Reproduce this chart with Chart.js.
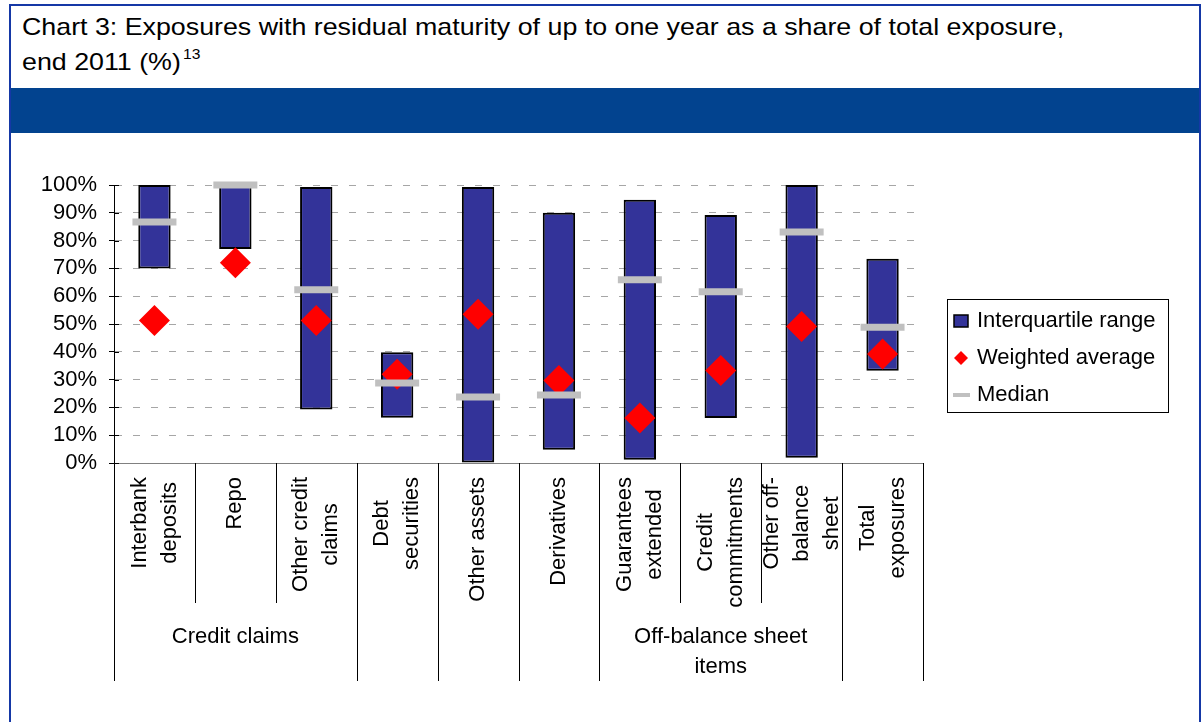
<!DOCTYPE html>
<html lang="en">

<head>
  <meta charset="UTF-8">
  <title>Chart 3</title>
  <style>
    body {
      margin: 0;
      background-color: #ffffff;
      overflow: hidden;
    }

    * {
      font-family: 'Liberation Sans', Arial, sans-serif;
    }

    #frame {
      position: absolute;
      left: 9px;
      top: 4px;
      width: 1188px;
      height: 760px;
      border: 2px solid #1538a6;
      border-bottom: none;
    }

    #title {
      position: absolute;
      left: 22px;
      top: 9px;
      font-size: 24px;
      line-height: 35px;
      color: #000000;
      white-space: nowrap;
      transform: scaleX(1.116);
      transform-origin: left top;
    }

    #title sup {
      font-size: 14px;
      vertical-align: baseline;
      position: relative;
      top: -11px;
      margin-left: 2px;
    }

    #band {
      position: absolute;
      left: 11px;
      top: 88px;
      width: 1188px;
      height: 45px;
      background-color: #02438f;
    }

    #chart-box {
      position: absolute;
      left: 0;
      top: 134px;
      width: 1202px;
      height: 588px;
    }
  </style>
</head>

<body>
  <div id="frame"></div>
  <div id="title">Chart 3: Exposures with residual maturity of up to one year as a share of total exposure,<br>end 2011 (%)<sup>13</sup></div>
  <div id="band"></div>
  <div id="chart-box">
    <canvas id="myChart" width="1202" height="588"></canvas>
  </div>

  <script src="https://cdn.jsdelivr.net/npm/chart.js@4.4.1/dist/chart.umd.min.js"></script>
  <script>
    // category labels, one entry per line of the rotated label
    const categories = [
      ['Interbank', 'deposits'],
      ['Repo'],
      ['Other credit', 'claims'],
      ['Debt', 'securities'],
      ['Other assets'],
      ['Derivatives'],
      ['Guarantees', 'extended'],
      ['Credit', 'commitments'],
      ['Other off-', 'balance', 'sheet'],
      ['Total', 'exposures']
    ]
    // groups span category indexes (inclusive)
    const groups = [
      { lines: ['Credit claims'], from: 0, to: 2 },
      { lines: ['Off-balance sheet', 'items'], from: 6, to: 8 }
    ]

    const lowerQuartile = [70, 77, 19.2, 16.3, 0, 4.8, 1.2, 16.2, 1.9, 33.2]
    const upperQuartile = [100, 100, 99.3, 39.8, 99.3, 90, 94.7, 89.2, 100, 73.5]
    const weightedAverage = [51.3, 72, 51.3, 31.9, 53.5, 29.7, 16.2, 33.3, 49.1, 39.2]
    const median = [86.7, 100, 62.3, 28.8, 23.7, 24.5, 65.9, 61.6, 83.1, 48.8]

    const yTicks = [0, 10, 20, 30, 40, 50, 60, 70, 80, 90, 100]

    const FONT = "'Liberation Sans', Arial, sans-serif"
    const FONT_SIZE = 22
    Chart.defaults.font.family = FONT
    Chart.defaults.font.size = FONT_SIZE
    Chart.defaults.color = '#000000'

    // rotated category labels, separators and group labels under the x axis
    const categoryAxis = {
      id: 'categoryAxis',
      afterDraw(chart) {
        const { ctx, chartArea, scales: { x, y } } = chart
        const step = x.getPixelForValue(1) - x.getPixelForValue(0)
        const edge = i => x.getPixelForValue(i) - step / 2
        const shortBottom = 469
        const longBottom = 547

        ctx.save()
        ctx.strokeStyle = '#000000'
        ctx.lineWidth = 1
        for (let i = 0; i <= categories.length; i++) {
          const inside = groups.some(g => i > g.from && i <= g.to)
          const px = Math.round(edge(i)) + 0.5
          ctx.beginPath()
          ctx.moveTo(px, chartArea.bottom)
          ctx.lineTo(px, inside ? shortBottom : longBottom)
          ctx.stroke()
        }

        ctx.font = FONT_SIZE + 'px ' + FONT
        ctx.fillStyle = '#000000'
        ctx.textBaseline = 'middle'
        ctx.textAlign = 'center'
        const lineGap = 30
        categories.forEach((lines, i) => {
          const cx = x.getPixelForValue(i)
          const maxW = Math.max(...lines.map(l => ctx.measureText(l).width))
          ctx.save()
          ctx.translate(cx, 343)
          ctx.rotate(-Math.PI / 2)
          lines.forEach((l, k) => {
            ctx.fillText(l, -maxW / 2, (k - (lines.length - 1) / 2) * lineGap)
          })
          ctx.restore()
        })

        ctx.textBaseline = 'alphabetic'
        groups.forEach(g => {
          const cx = (edge(g.from) + edge(g.to + 1)) / 2
          g.lines.forEach((l, k) => {
            ctx.fillText(l, cx, 509 + k * 30)
          })
        })

        // small tick marks inside the y axis
        yTicks.forEach(v => {
          const py = Math.round(y.getPixelForValue(v)) + 0.5
          ctx.beginPath()
          ctx.moveTo(chartArea.left, py)
          ctx.lineTo(chartArea.left + 5, py)
          ctx.stroke()
        })
        ctx.restore()
      }
    }

    // boxed legend to the right of the plot
    const boxLegend = {
      id: 'boxLegend',
      afterDraw(chart) {
        const { ctx } = chart
        const [bars, avg, med] = chart.data.datasets
        ctx.save()
        ctx.strokeStyle = '#000000'
        ctx.lineWidth = 1
        ctx.strokeRect(947.5, 165.5, 221, 113)

        const mx = 961
        const rows = [187, 224, 261]

        ctx.fillStyle = bars.backgroundColor
        ctx.fillRect(954, rows[0] - 6, 14, 12)
        ctx.lineWidth = 1.5
        ctx.strokeRect(954, rows[0] - 6, 14, 12)

        ctx.fillStyle = avg.pointBackgroundColor
        ctx.beginPath()
        ctx.moveTo(mx, rows[1] - 7)
        ctx.lineTo(mx + 7, rows[1])
        ctx.lineTo(mx, rows[1] + 7)
        ctx.lineTo(mx - 7, rows[1])
        ctx.closePath()
        ctx.fill()

        ctx.strokeStyle = med.pointBorderColor
        ctx.lineWidth = 4
        ctx.beginPath()
        ctx.moveTo(953, rows[2])
        ctx.lineTo(970, rows[2])
        ctx.stroke()

        ctx.fillStyle = '#000000'
        ctx.font = FONT_SIZE + 'px ' + FONT
        ctx.textBaseline = 'middle'
        ctx.textAlign = 'left'
        ;[bars, avg, med].forEach((d, k) => ctx.fillText(d.label, 977, rows[k]))
        ctx.restore()
      }
    }

    const ctx = document.getElementById('myChart').getContext('2d')
    const myChart = new Chart(ctx, {
      data: {
        labels: categories,
        datasets: [{
          type: 'bar',
          label: 'Interquartile range',
          data: lowerQuartile.map((lo, i) => [lo, upperQuartile[i]]),
          backgroundColor: '#333399',
          borderColor: '#000000',
          borderWidth: 2,
          borderSkipped: false,
          barPercentage: 0.4,
          categoryPercentage: 1,
          order: 3
        },
        {
          type: 'line',
          label: 'Weighted average',
          data: weightedAverage,
          showLine: false,
          pointStyle: 'rectRot',
          pointRadius: 15.5,
          pointBorderWidth: 0,
          pointBackgroundColor: '#ff0000',
          pointBorderColor: '#ff0000',
          clip: false,
          order: 2
        },
        {
          type: 'line',
          label: 'Median',
          data: median,
          showLine: false,
          pointStyle: 'line',
          pointRadius: 22,
          pointBorderWidth: 7,
          pointBorderColor: '#c0c0c0',
          clip: false,
          order: 1
        }]
      },
      options: {
        responsive: false,
        animation: false,
        events: [],
        layout: {
          padding: { top: 51, right: 279, bottom: 0, left: 0 }
        },
        plugins: {
          legend: { display: false },
          tooltip: { enabled: false }
        },
        scales: {
          x: {
            type: 'category',
            offset: true,
            grid: { display: false },
            ticks: { display: false },
            border: { color: '#808080', width: 1 },
            afterFit: scale => { scale.height = 259 }
          },
          y: {
            min: 0,
            max: 100,
            afterBuildTicks: scale => { scale.ticks = yTicks.map(v => ({ value: v })) },
            ticks: {
              padding: 12,
              autoSkip: false,
              callback: v => v + '%'
            },
            grid: {
              color: '#a6a6a6',
              tickColor: '#000000',
              tickLength: 5
            },
            border: { color: '#000000', width: 1, dash: [7, 11] },
            afterFit: scale => { scale.width = 114 }
          }
        }
      },
      plugins: [categoryAxis, boxLegend]
    })
  </script>
</body>

</html>
